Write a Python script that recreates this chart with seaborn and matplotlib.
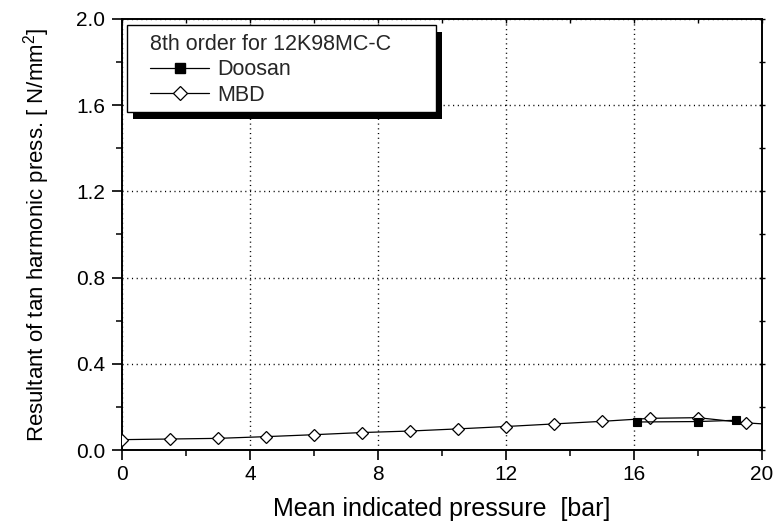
import matplotlib
matplotlib.use("Agg")
import matplotlib.pyplot as plt
from matplotlib.patches import Rectangle
from matplotlib.lines import Line2D
from matplotlib.ticker import MultipleLocator, FormatStrFormatter
import seaborn as sns
import pandas as pd

# ---- data ----
mbd_x = [0, 1.5, 3, 4.5, 6, 7.5, 9, 10.5, 12, 13.5, 15, 16.5, 18, 19.5, 21]
mbd_y = [0.048, 0.051, 0.054, 0.062, 0.071, 0.081, 0.088, 0.098, 0.109, 0.121,
         0.133, 0.147, 0.150, 0.126, 0.112]
doosan_x = [16.1, 18.0, 19.2]
doosan_y = [0.130, 0.132, 0.138]
legend_title = "8th order for 12K98MC-C"
series_names = ["Doosan", "MBD"]
x_ticks = [0, 4, 8, 12, 16, 20]
y_ticks = [0.0, 0.4, 0.8, 1.2, 1.6, 2.0]

sns.set_theme(style="white")
plt.rcParams["font.family"] = ["Liberation Sans", "DejaVu Sans"]
plt.rcParams["mathtext.fontset"] = "custom"
plt.rcParams["mathtext.rm"] = "Liberation Sans"

fig = plt.figure(figsize=(7.77, 5.29), dpi=100)
ax = fig.add_axes([122 / 777, 1 - 450 / 529, 640 / 777, 431 / 529])

df_d = pd.DataFrame({"x": doosan_x, "y": doosan_y})
df_m = pd.DataFrame({"x": mbd_x, "y": mbd_y})

sns.lineplot(data=df_m, x="x", y="y", ax=ax, color="black", linewidth=0.9,
             marker="D", markersize=5.9, markerfacecolor="white",
             markeredgecolor="black", markeredgewidth=0.9, zorder=3)
sns.lineplot(data=df_d, x="x", y="y", ax=ax, color="black", linewidth=0.9,
             marker="s", markersize=6.0, markerfacecolor="black",
             markeredgecolor="black", markeredgewidth=0.8, zorder=4)

ax.set_xlim(0, 20)
ax.set_ylim(0, 2.0)
ax.set_xticks(x_ticks)
ax.set_yticks(y_ticks)
ax.xaxis.set_minor_locator(MultipleLocator(2))
ax.yaxis.set_minor_locator(MultipleLocator(0.2))
ax.yaxis.set_major_formatter(FormatStrFormatter("%.1f"))

ax.grid(True, which="major", color="black", linestyle=(0, (0.8, 2.6)), linewidth=1.0)
for s in ax.spines.values():
    s.set_color("black")
    s.set_linewidth(1.4)
    s.set_visible(True)

ax.tick_params(axis="both", which="major", direction="out", length=7, width=1.2,
               color="black", labelsize=15, labelcolor="black",
               bottom=True, left=True, top=False, right=False)
ax.tick_params(axis="x", which="major", pad=4)
ax.tick_params(axis="y", which="major", pad=5)
ax.tick_params(axis="both", which="minor", direction="out", length=4, width=1.1,
               color="black", bottom=True, left=True, top=False, right=False)

# short ticks on top and right spines
ax_top = ax.secondary_xaxis("top")
ax_top.set_xticks(x_ticks)
ax_top.xaxis.set_minor_locator(MultipleLocator(2))
ax_top.tick_params(which="both", direction="in", length=3, width=1.0,
                   labeltop=False, color="black")
ax_top.spines["top"].set_visible(False)
ax_right = ax.secondary_yaxis("right")
ax_right.set_yticks(y_ticks)
ax_right.yaxis.set_minor_locator(MultipleLocator(0.2))
ax_right.tick_params(which="both", direction="inout", length=4, width=1.0,
                     labelright=False, color="black")
ax_right.spines["right"].set_visible(False)

ax.set_xlabel("Mean indicated pressure  [bar]", fontsize=18, color="black", labelpad=9)
ax.set_ylabel("Resultant of tan harmonic press. [ N/mm$^2$]", fontsize=16,
              color="black", labelpad=17)

# legend box with solid drop shadow
box_x0, box_y0, box_x1, box_y1 = 5 / 640, 338 / 431, 314 / 640, 425 / 431
sh_dx, sh_dy = 6 / 640, 7 / 431
ax.add_patch(Rectangle((box_x0 + sh_dx, box_y0 - sh_dy), box_x1 - box_x0, box_y1 - box_y0,
                       transform=ax.transAxes, facecolor="black", edgecolor="none",
                       zorder=5, clip_on=False))
ax.add_patch(Rectangle((box_x0, box_y0), box_x1 - box_x0, box_y1 - box_y0,
                       transform=ax.transAxes, facecolor="white", edgecolor="black",
                       linewidth=1.0, zorder=5.5, clip_on=False))

h_d = Line2D([], [], color="black", linewidth=0.9, marker="s", markersize=6.5,
             markerfacecolor="black", markeredgecolor="black")
h_m = Line2D([], [], color="black", linewidth=0.9, marker="D", markersize=7.0,
             markerfacecolor="white", markeredgecolor="black", markeredgewidth=0.9)
leg = ax.legend([h_d, h_m], series_names, title=legend_title, loc="upper left",
                bbox_to_anchor=(28 / 640, 1 - 15 / 431), borderaxespad=0, borderpad=0,
                fontsize=15.5, title_fontsize=15.5, frameon=False,
                handlelength=2.75, handletextpad=0.37, labelspacing=0.2)
leg._legend_box.align = "left"
leg.set_zorder(6)

fig.savefig("out.png", dpi=100, facecolor="white")
